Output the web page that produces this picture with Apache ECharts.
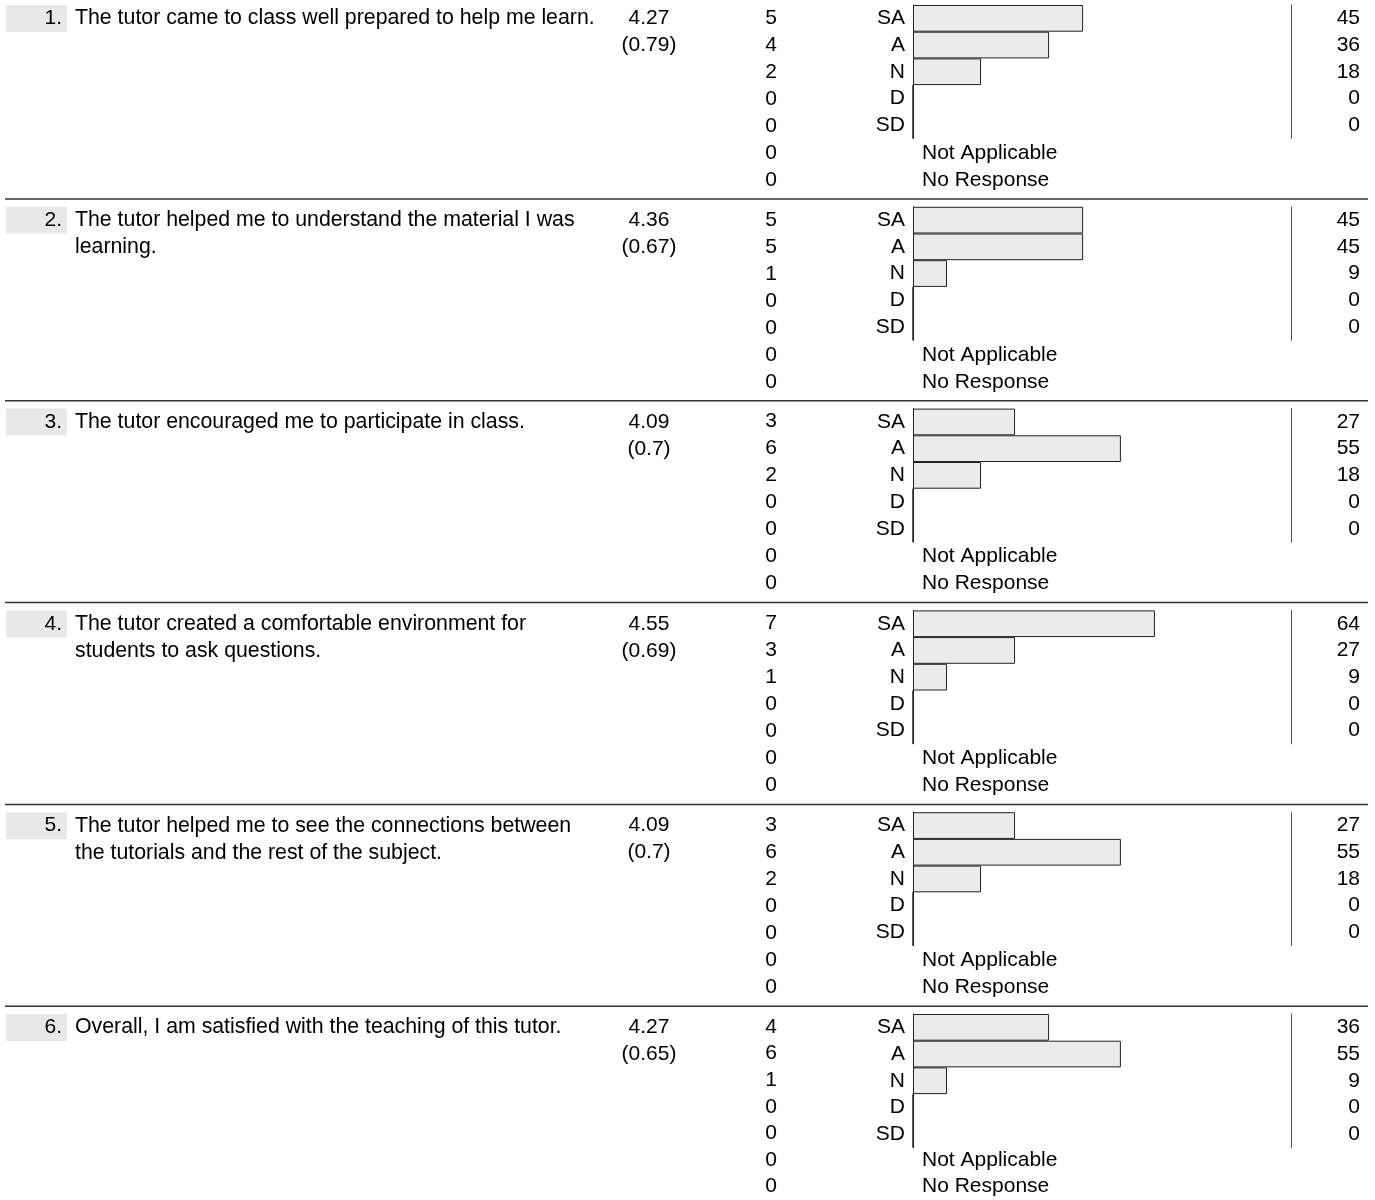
<!DOCTYPE html>
<html>
<head>
<meta charset="utf-8">
<script src="https://cdn.jsdelivr.net/npm/echarts@6/dist/echarts.min.js"></script>
<style>
html,body{margin:0;padding:0;background:#fff;}
#chart{width:1375px;height:1200px;}
</style>
</head>
<body>
<div id="chart"></div>
<script>
var questions = [
  "The tutor came to class well prepared to help me learn.",
  "The tutor helped me to understand the material I was\nlearning.",
  "The tutor encouraged me to participate in class.",
  "The tutor created a comfortable environment for\nstudents to ask questions.",
  "The tutor helped me to see the connections between\nthe tutorials and the rest of the subject.",
  "Overall, I am satisfied with the teaching of this tutor."
];
var means = ["4.27", "4.36", "4.09", "4.55", "4.09", "4.27"];
var sds = ["(0.79)", "(0.67)", "(0.7)", "(0.69)", "(0.7)", "(0.65)"];
var scaleLabels = ["SA", "A", "N", "D", "SD"];
var extraLabels = ["Not Applicable", "No Response"];
var counts = [
  [5, 4, 2, 0, 0, 0, 0],
  [5, 5, 1, 0, 0, 0, 0],
  [3, 6, 2, 0, 0, 0, 0],
  [7, 3, 1, 0, 0, 0, 0],
  [3, 6, 2, 0, 0, 0, 0],
  [4, 6, 1, 0, 0, 0, 0]
];
var percents = [
  [45, 36, 18, 0, 0],
  [45, 45, 9, 0, 0],
  [27, 55, 18, 0, 0],
  [64, 27, 9, 0, 0],
  [27, 55, 18, 0, 0],
  [36, 55, 9, 0, 0]
];

var FONT = "'Liberation Sans', Arial, sans-serif";
var FS = 21;
var QFS = 21.3;
var BLOCK = 201.8;

var grids = [], xAxes = [], yAxes = [], series = [], graphics = [];

questions.forEach(function (q, k) {
  var off = k * BLOCK;
  // bar grid
  var gi = grids.length;
  grids.push({ left: 913, width: 378, top: off + 5, height: 133.5 });
  xAxes.push({ type: 'value', gridIndex: gi, min: 0, max: 100, show: false });
  var yl = yAxes.length;
  yAxes.push({
    type: 'category', gridIndex: gi, inverse: true, data: scaleLabels,
    axisLine: { show: true, lineStyle: { color: '#222', width: 1 } },
    axisTick: { show: false },
    axisLabel: { interval: 0, margin: 8, color: '#000', fontSize: FS, fontFamily: FONT }
  });
  yAxes.push({
    type: 'category', gridIndex: gi, inverse: true, position: 'right',
    data: percents[k].map(String),
    axisLine: { show: true, lineStyle: { color: '#555', width: 1 } },
    axisTick: { show: false },
    axisLabel: { interval: 0, margin: 69, align: 'right', color: '#000', fontSize: FS, fontFamily: FONT }
  });
  series.push({
    type: 'bar', xAxisIndex: gi, yAxisIndex: yl, data: percents[k],
    barCategoryGap: '0%', silent: true,
    itemStyle: { color: '#ebebeb', borderColor: '#222', borderWidth: 1 }
  });

  // text grid (counts + NA/NR)
  var ti = grids.length;
  grids.push({ left: 771, width: 151, top: off + 4.5, height: 189 });
  xAxes.push({ type: 'value', gridIndex: ti, min: 0, max: 1, show: false });
  var ty = yAxes.length;
  yAxes.push({
    type: 'category', gridIndex: ti, inverse: true, data: counts[k].map(String),
    axisLine: { show: false }, axisTick: { show: false },
    axisLabel: { interval: 0, margin: 0, align: 'center', color: '#000', fontSize: FS, fontFamily: FONT }
  });
  yAxes.push({
    type: 'category', gridIndex: ti, inverse: true, position: 'right',
    data: ['', '', '', '', ''].concat(extraLabels),
    axisLine: { show: false }, axisTick: { show: false },
    axisLabel: { interval: 0, margin: 0, align: 'left', color: '#000', fontSize: FS, fontFamily: FONT }
  });
  series.push({ type: 'scatter', xAxisIndex: ti, yAxisIndex: ty, data: [], silent: true });

  // static text
  graphics.push({ type: 'rect', shape: { x: 6, y: off + 5, width: 61, height: 27 }, style: { fill: '#e8e8e8' }, silent: true });
  graphics.push({ type: 'text', x: 62, y: off + 18.5, style: { text: (k + 1) + '.', fill: '#000', font: FS + 'px ' + FONT, textAlign: 'right', textVerticalAlign: 'middle' }, silent: true });
  graphics.push({ type: 'text', x: 75, y: off + 5, style: { text: q, fill: '#000', font: QFS + 'px ' + FONT, lineHeight: 27, textAlign: 'left', textVerticalAlign: 'top' }, silent: true });
  graphics.push({ type: 'text', x: 649, y: off + 18.5, style: { text: means[k], fill: '#000', font: FS + 'px ' + FONT, textAlign: 'center', textVerticalAlign: 'middle' }, silent: true });
  graphics.push({ type: 'text', x: 649, y: off + 45.5, style: { text: sds[k], fill: '#000', font: FS + 'px ' + FONT, textAlign: 'center', textVerticalAlign: 'middle' }, silent: true });
  if (k < questions.length - 1) {
    graphics.push({ type: 'line', shape: { x1: 5, y1: off + 199, x2: 1368, y2: off + 199 }, style: { stroke: '#333', lineWidth: 1.5 }, silent: true });
  }
});

var chart = echarts.init(document.getElementById('chart'), null, { renderer: 'canvas' });
chart.setOption({
  animation: false,
  backgroundColor: '#fff',
  grid: grids,
  xAxis: xAxes,
  yAxis: yAxes,
  series: series,
  graphic: graphics
});
</script>
</body>
</html>
